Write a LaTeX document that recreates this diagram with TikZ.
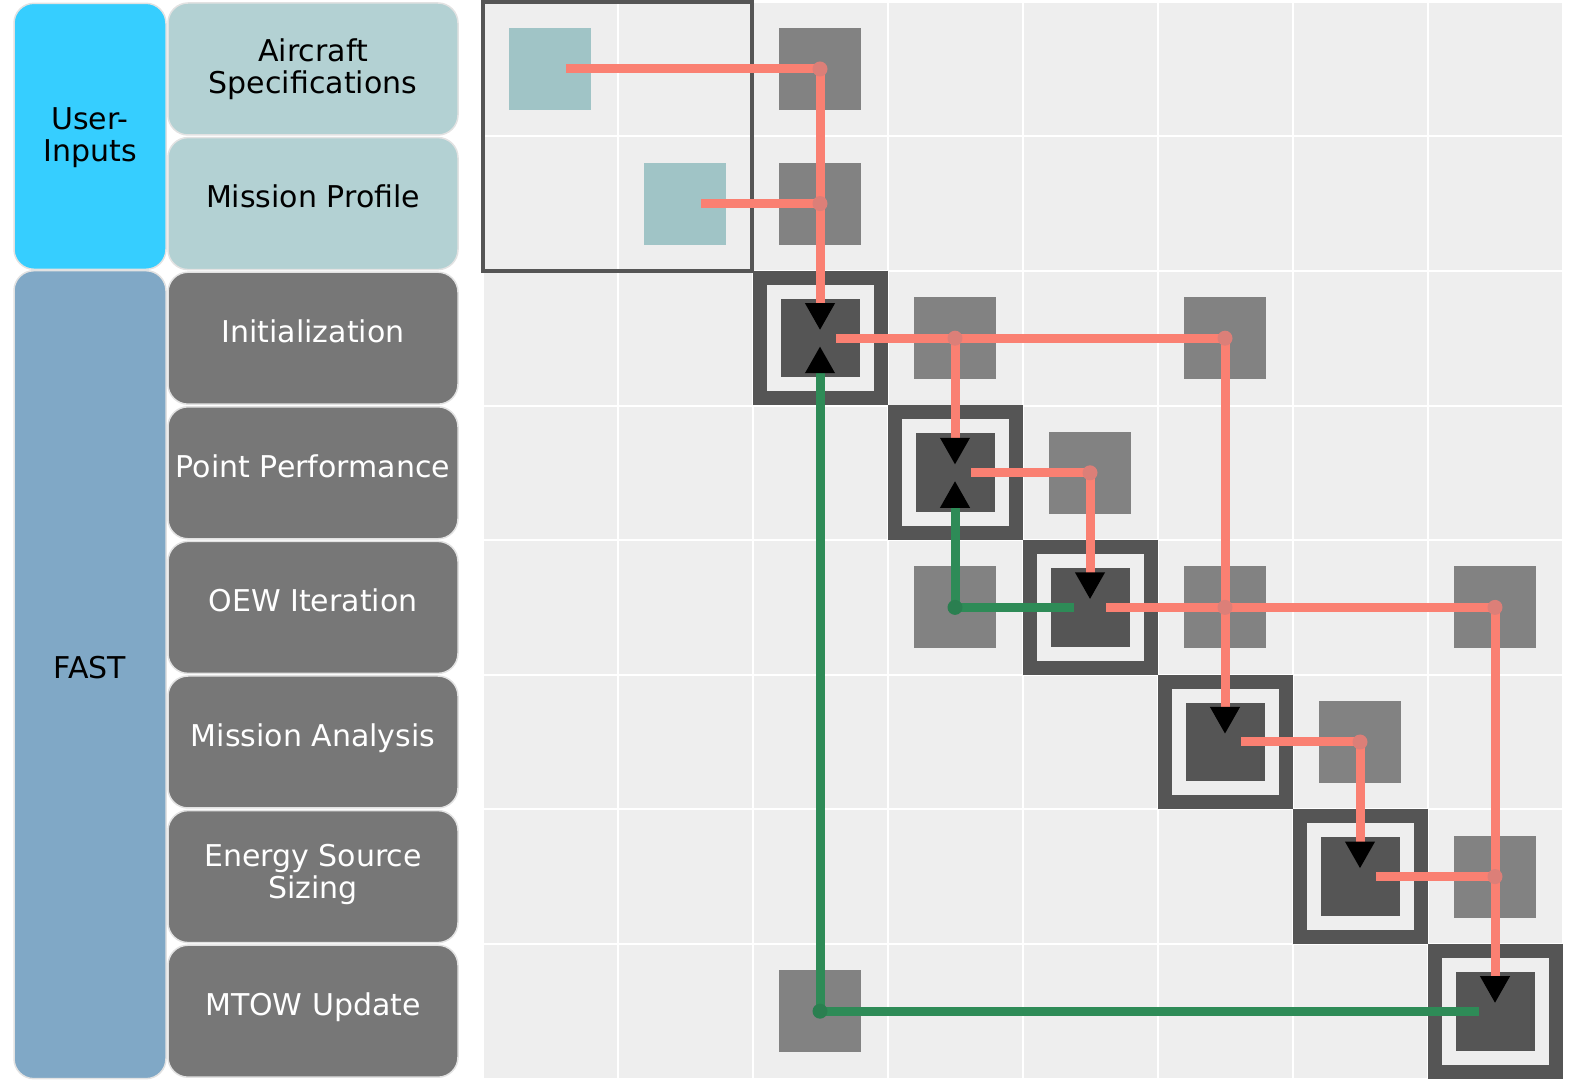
\documentclass[tikz,border=0pt]{standalone}
\usepackage{fontspec}
\setmainfont{DejaVu Sans}
\usetikzlibrary{positioning, arrows.meta, fit}

\definecolor{cellbg}{HTML}{EEEEEE}
\definecolor{dgray}{HTML}{555555}
\definecolor{offgray}{HTML}{828282}
\definecolor{tealsq}{HTML}{A0C4C6}
\definecolor{lin}{HTML}{B3D1D3}
\definecolor{ldark}{HTML}{777777}
\definecolor{lborder}{HTML}{E2E2E2}
\definecolor{userc}{HTML}{36CEFF}
\definecolor{fastc}{HTML}{80A8C6}
\definecolor{salmon}{HTML}{FA8072}
\definecolor{sdot}{HTML}{DC7F78}
\definecolor{fbgreen}{HTML}{2E8B57}
\definecolor{gdot}{HTML}{2A7F50}

\begin{document}
\begin{tikzpicture}[x=1pt,y=1pt,>={Triangle[width=28pt,length=27pt,color=black]},node distance=134.6pt and 135pt,on grid]
\tikzstyle{inp}=[rectangle,fill=tealsq,minimum size=82pt,inner sep=0pt]
\tikzstyle{dep}=[rectangle,fill=offgray,minimum size=82pt,inner sep=0pt]
\tikzstyle{comp}=[rectangle,fill=dgray,draw=dgray,double=cellbg,line width=14pt,double distance=14pt,minimum width=93pt,minimum height=92.6pt,inner sep=0pt]
\tikzstyle{lbl}=[rectangle,rounded corners=20pt,draw=lborder,line width=1.5pt,align=center,text depth=14pt,font=\fontsize{30pt}{32pt}\selectfont]
\tikzstyle{lblin}=[lbl,fill=lin,text=black,minimum width=290pt,minimum height=132pt]
\tikzstyle{lblfast}=[lbl,fill=ldark,text=white,minimum width=290pt,minimum height=132pt]
\tikzstyle{grp}=[lbl,text=black,minimum width=152pt]
\tikzstyle{fwd}=[salmon,line width=9pt]
\tikzstyle{fb}=[fbgreen,line width=9pt]

\useasboundingbox (0,0) rectangle (1580,1080);

%-- Matrix background --
\fill[cellbg] (483,1.4) rectangle (1563,1078.2);
\draw[white,line width=2pt,xstep=135,ystep=134.6,shift={(483,1.4)}] (0,0) grid (1080,1077);

%-- Diagonal --
\node[inp] (00) at (550,1011) {};
\node[inp] (11) [below right=of 00] {};
\node[comp] (22) [below right=of 11] {};
\node[comp] (33) [below right=of 22] {};
\node[comp] (44) [below right=of 33] {};
\node[comp] (55) [below right=of 44] {};
\node[comp] (66) [below right=of 55] {};
\node[comp] (77) [below right=of 66] {};

%-- Couplings --
\node[dep] (12) [right=of 11] {};
\node[dep] (02) [above=of 12] {};
\node[dep] (23) [right=of 22] {};
\node[dep] (25) at (55 |- 22) {};
\node[dep] (34) [right=of 33] {};
\node[dep] (43) [left=of 44] {};
\node[dep] (45) [right=of 44] {};
\node[dep] (47) at (77 |- 44) {};
\node[dep] (56) [right=of 55] {};
\node[dep] (67) [right=of 66] {};
\node[dep] (72) at (22 |- 77) {};

\node[draw=dgray,line width=4pt,fit=(00)(11),inner sep=26pt] (ui) {};

%-- Labels --
\node[lblin,text depth=6pt] (spec) [left=237pt of 00] {Aircraft\\Specifications};
\node[lblin] (miss) [below=of spec] {Mission Profile};
\node[lblfast] (init) [below=of miss] {Initialization};
\node[lblfast] (perf) [below=of init] {Point Performance};
\node[lblfast] (oew) [below=of perf] {OEW Iteration};
\node[lblfast] (anal) [below=of oew] {Mission Analysis};
\node[lblfast,text depth=10pt] (ess) [below=of anal] {Energy Source\\Sizing};
\node[lblfast] (mtow) [below=of ess] {MTOW Update};

\node[grp,fill=userc,minimum height=266pt,text depth=4pt] (user) [left=223pt of spec,yshift=-67.3pt] {User-\\Inputs};
\node[grp,fill=fastc,minimum height=808pt] (fast) [left=223pt of oew,yshift=-67.3pt] {FAST};

%-- Forward data --
% User-Inputs
\draw[fwd,->] ([xshift=16pt]00.center) -- (02.center) -- ([yshift=8pt]22.center);
\draw[fwd] ([xshift=16pt]11.center) -- (12.center);

% Initialization
\draw[fwd] ([xshift=16pt]22.center) -- (25.center);
\draw[fwd,->] (23.center) -- ([yshift=8pt]33.center);
\draw[fwd,->] (25.center) -- ([yshift=8pt]55.center);

% Point Performance
\draw[fwd,->] ([xshift=16pt]33.center) -- (34.center) -- ([yshift=8pt]44.center);

% OEW Iteration
\draw[fwd] ([xshift=16pt]44.center) -- (47.center);
\draw[fwd,->] (47.center) -- ([yshift=8pt]77.center);

% Mission Analysis
\draw[fwd,->] ([xshift=16pt]55.center) -- (56.center) -- ([yshift=8pt]66.center);

% Energy Source Sizing
\draw[fwd] ([xshift=16pt]66.center) -- (67.center);

%-- Feedback --
\draw[fb,->] ([xshift=-16pt]44.center) -- (43.center) -- ([yshift=-8pt]33.center);
\draw[fb,->] ([xshift=-16pt]77.center) -- (72.center) -- ([yshift=-8pt]22.center);

%-- Junctions --
\foreach \n in {02,12,23,25,34,45,47,56,67}
  \fill[sdot] (\n.center) circle (7.5pt);
\foreach \n in {43,72}
  \fill[gdot] (\n.center) circle (7.5pt);

\end{tikzpicture}
\end{document}
